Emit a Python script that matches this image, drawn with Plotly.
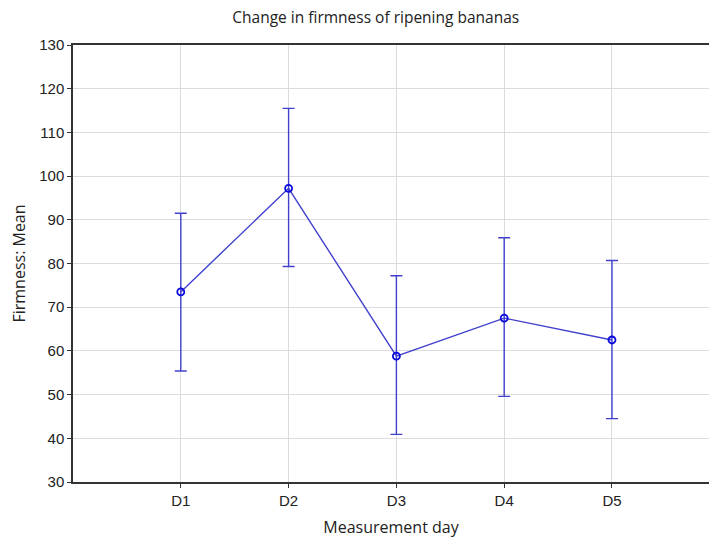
import plotly.graph_objects as go

days = ["D1", "D2", "D3", "D4", "D5"]
day_pos = [1, 2, 3, 4, 5]
means = [73.5, 97.2, 58.8, 67.5, 62.5]
upper = [91.5, 115.5, 77.2, 85.9, 80.7]
lower = [55.4, 79.3, 40.9, 49.6, 44.5]

err_plus = [u - m for u, m in zip(upper, means)]
err_minus = [m - l for m, l in zip(means, lower)]

line_col = "rgb(65,65,205)"
fig = go.Figure()
fig.add_trace(go.Scatter(
    x=day_pos, y=means, mode="lines+markers",
    line=dict(color=line_col, width=1.4),
    marker=dict(symbol="circle-open", size=7, color="rgb(10,10,220)", line=dict(width=1.8)),
    error_y=dict(type="data", symmetric=False, array=err_plus, arrayminus=err_minus,
                 color=line_col, thickness=1.4, width=6),
    showlegend=False,
))

tick_font = dict(family="Liberation Sans Narrow, Arial Narrow, Liberation Sans, Arial", size=15, color="#222")
label_font = dict(family="Open Sans, Noto Sans, sans-serif", size=16, color="#222")
fig.update_layout(
    width=709, height=538,
    margin=dict(l=73, r=0, t=45, b=56),
    paper_bgcolor="white", plot_bgcolor="white",
    title=dict(text="Change in firmness of ripening bananas", x=0.53, xanchor="center",
               y=1 - 18 / 538, yanchor="middle",
               font=dict(family="Open Sans, Noto Sans, sans-serif", size=15.5, color="#222")),
    xaxis=dict(range=[0, 5.9], tickvals=day_pos, ticktext=days, showgrid=True,
               gridcolor="#dcdcdc", gridwidth=1, zeroline=False,
               showline=True, linecolor="#333", linewidth=1.5, mirror=True,
               ticks="outside", ticklen=4, tickcolor="#333", tickfont=tick_font,
               title=dict(text="Measurement day", standoff=14, font=label_font)),
    yaxis=dict(range=[30, 130], tickvals=list(range(30, 131, 10)), showgrid=True,
               gridcolor="#dcdcdc", gridwidth=1, zeroline=False,
               showline=True, linecolor="#333", linewidth=1.5, mirror=False,
               ticks="outside", ticklen=4, tickcolor="#333", tickfont=tick_font,
               title=dict(text="Firmness: Mean", standoff=10, font=label_font)),
)

fig.write_html("out.html")
